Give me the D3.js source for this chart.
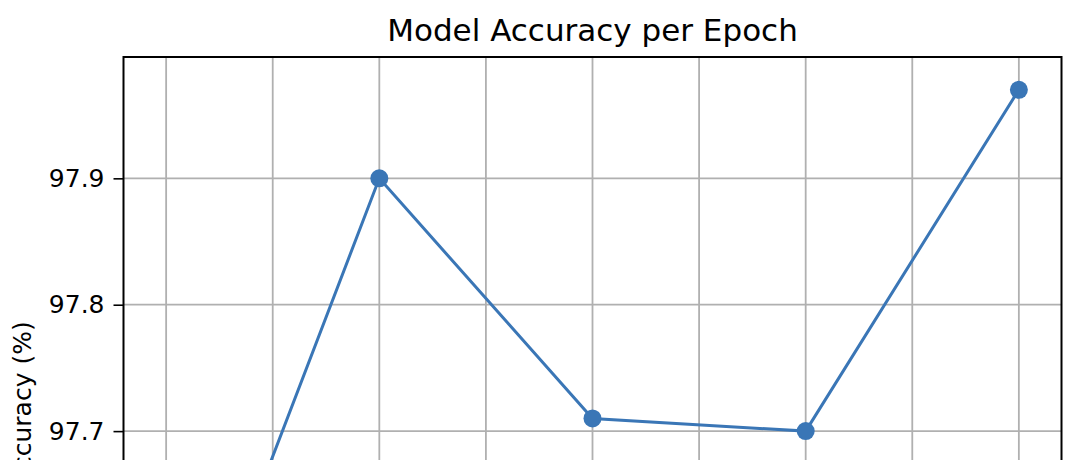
<!DOCTYPE html>
<html>
<head>
<meta charset="utf-8">
<script src="https://cdn.jsdelivr.net/npm/d3@7"></script>
<style>
  body { margin: 0; background: #fff; }
  svg { display: block; overflow: hidden; }
  text { font-family: "DejaVu Sans", sans-serif; fill: #000; }
</style>
</head>
<body>
<div id="chart"></div>
<script>
// data
var epochs = [1, 2, 3, 4, 5];
var accuracy = [97.46, 97.90, 97.71, 97.70, 97.97];
var xGrid = [1, 1.5, 2, 2.5, 3, 3.5, 4, 4.5, 5];
var yTicks = [97.7, 97.8, 97.9];

var data = epochs.map(function(e, i) { return {epoch: e, acc: accuracy[i]}; });

var W = 1080, H = 460;
// the plot runs on below the bottom of the page, as in the cropped reference
var plot = {left: 123.5, right: 1061.5, top: 57, bottom: 785};

var svg = d3.select("#chart").append("svg")
  .attr("width", W)
  .attr("height", H);

var xScale = d3.scaleLinear()
  .domain([0.8, 5.2])
  .range([plot.left, plot.right]);

var yScale = d3.scaleLinear()
  .domain([97.42, 97.996])
  .range([plot.bottom, plot.top]);

// grid
svg.append("g")
  .selectAll("line")
  .data(xGrid)
  .enter().append("line")
  .attr("x1", function(d) { return xScale(d); })
  .attr("x2", function(d) { return xScale(d); })
  .attr("y1", plot.top)
  .attr("y2", plot.bottom)
  .attr("stroke", "#b0b0b0")
  .attr("stroke-width", 1.8);

svg.append("g")
  .selectAll("line")
  .data(yTicks)
  .enter().append("line")
  .attr("x1", plot.left)
  .attr("x2", plot.right)
  .attr("y1", function(d) { return yScale(d); })
  .attr("y2", function(d) { return yScale(d); })
  .attr("stroke", "#b0b0b0")
  .attr("stroke-width", 1.8);

// y axis
var yAxis = d3.axisLeft(yScale)
  .tickValues(yTicks)
  .tickFormat(d3.format(".1f"))
  .tickSize(10)
  .tickPadding(9);

var gy = svg.append("g")
  .attr("transform", "translate(" + plot.left + ",0)")
  .call(yAxis);
gy.select(".domain").remove();
gy.selectAll("line").attr("stroke", "#000").attr("stroke-width", 1.6);
gy.selectAll("text")
  .attr("font-family", "DejaVu Sans")
  .attr("font-size", "25px")
  .attr("fill", "#000");

// frame
svg.append("rect")
  .attr("x", plot.left)
  .attr("y", plot.top)
  .attr("width", plot.right - plot.left)
  .attr("height", plot.bottom - plot.top)
  .attr("fill", "none")
  .attr("stroke", "#000")
  .attr("stroke-width", 2);

// line + markers
var line = d3.line()
  .x(function(d) { return xScale(d.epoch); })
  .y(function(d) { return yScale(d.acc); });

svg.append("path")
  .datum(data)
  .attr("d", line)
  .attr("fill", "none")
  .attr("stroke", "#3a76b6")
  .attr("stroke-width", 3);

svg.selectAll(".dot")
  .data(data)
  .enter().append("circle")
  .attr("class", "dot")
  .attr("cx", function(d) { return xScale(d.epoch); })
  .attr("cy", function(d) { return yScale(d.acc); })
  .attr("r", 9)
  .attr("fill", "#3a76b6");

// title and y label
svg.append("text")
  .attr("x", (plot.left + plot.right) / 2)
  .attr("y", 41)
  .attr("text-anchor", "middle")
  .attr("font-size", "31px")
  .text("Model Accuracy per Epoch");

svg.append("text")
  .attr("transform", "translate(31," + 404 + ") rotate(-90)")
  .attr("text-anchor", "middle")
  .attr("font-size", "25px")
  .text("Accuracy (%)");
</script>
</body>
</html>
